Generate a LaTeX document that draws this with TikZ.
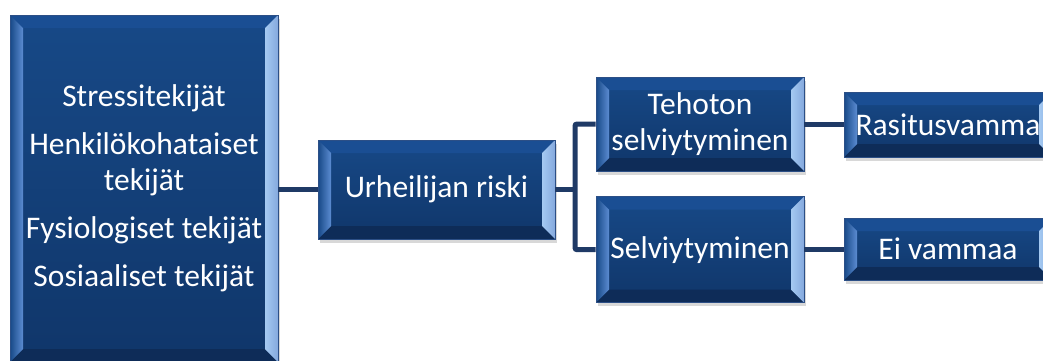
\documentclass[tikz,border=0pt]{standalone}
\usepackage{fontspec}
\setmainfont{Carlito}
\usetikzlibrary{calc,shadows}
\definecolor{facetop}{HTML}{174987}
\definecolor{facebot}{HTML}{10366A}
\definecolor{lnk}{HTML}{1F3A66}
\definecolor{bvl}{HTML}{5C8CD2}
\definecolor{bvr}{HTML}{A4C9F2}
\definecolor{bvt}{HTML}{1A4E93}
\definecolor{bvb}{HTML}{0E2C58}
\definecolor{edge}{HTML}{2C4F86}
\tikzset{
  bevelbox/.style={draw=edge, line width=0.6pt, top color=facetop, bottom color=facebot,
    text=white, font=\fontsize{31.5}{36}\selectfont, align=center, inner sep=0pt,
    drop shadow={shadow xshift=1.5pt, shadow yshift=-3.5pt, opacity=0.3},
    path picture={
      \coordinate (pnw) at (path picture bounding box.north west);
      \coordinate (pne) at (path picture bounding box.north east);
      \coordinate (psw) at (path picture bounding box.south west);
      \coordinate (pse) at (path picture bounding box.south east);
      \fill[bvt] (pnw) -- (pne) -- ($(pne)+(-13,-13)$) -- ($(pnw)+(13,-13)$) -- cycle;
      \fill[bvb] (psw) -- (pse) -- ($(pse)+(-13,13)$) -- ($(psw)+(13,13)$) -- cycle;
      \shade[left color=facetop, right color=bvl] (pnw) -- ($(pnw)+(13,-13)$) -- ($(psw)+(13,13)$) -- (psw) -- cycle;
      \shade[left color=bvr, right color=bvl!75!white] ($(pne)+(-13,-13)$) -- (pne) -- (pse) -- ($(pse)+(-13,13)$) -- cycle;
    }},
  link/.style={draw=lnk, line width=5pt, rounded corners=2pt}
}
\begin{document}
\begin{tikzpicture}[x=1pt,y=1pt]
\clip (0,0) rectangle (1043,360);
\fill[white] (0,0) rectangle (1043,360);
\node[bevelbox, minimum width=268pt, minimum height=347pt] (L) at (144,171.5)
  {Stressitekijät\\[12pt]Henkilökohataiset\\tekijät\\[12pt]Fysiologiset tekijät\\[12pt]Sosiaaliset tekijät};
\node[bevelbox, minimum width=237pt, minimum height=99pt] (U) at (436.5,170.5) {Urheilijan riski};
\node[bevelbox, minimum width=208pt, minimum height=94pt] (T) at (700,236) {Tehoton\\selviytyminen};
\node[bevelbox, minimum width=208pt, minimum height=106pt] (S) at (700,110.3) {Selviytyminen};
\node[bevelbox, minimum width=208pt, minimum height=65pt] (R) at (948,235.5) {Rasitusvamma};
\node[bevelbox, minimum width=208pt, minimum height=62pt] (E) at (948,111) {Ei vammaa};
\coordinate (br) at (575,170.5);
\draw[link] (U.west -| L.east) -- (U.west);
\draw[link] (U.east) -- (br);
\draw[link] (T.west) -| (br) |- (S.west);
\draw[link] (T.east) -- (T.east -| R.west);
\draw[link] (S.east) -- (S.east -| E.west);
\end{tikzpicture}
\end{document}
